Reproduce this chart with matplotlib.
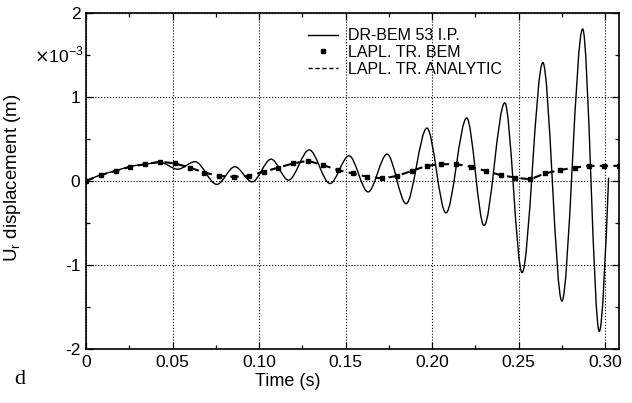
import numpy as np
import matplotlib
matplotlib.use('Agg')
import matplotlib.pyplot as plt
from matplotlib.path import Path
from matplotlib.patches import PathPatch
from matplotlib.lines import Line2D

plt.rcParams['font.family'] = ['Liberation Sans', 'DejaVu Sans']

# DR-BEM 53 I.P. response (x1e-3 m), read at turning points of the curve
t_drbem = [0, 0.008, 0.017, 0.025, 0.034, 0.043, 0.053, 0.063, 0.0756, 0.086,
           0.096, 0.107, 0.117, 0.129, 0.141, 0.152, 0.163, 0.174, 0.185, 0.197,
           0.208, 0.220, 0.230, 0.242, 0.252, 0.264, 0.275, 0.287, 0.2966, 0.302]
u_drbem = [0, 0.07, 0.12, 0.17, 0.20, 0.22, 0.14, 0.23, -0.04, 0.17,
           -0.01, 0.26, 0.01, 0.37, -0.03, 0.30, -0.13, 0.32, -0.27, 0.63,
           -0.38, 0.75, -0.53, 0.93, -1.09, 1.41, -1.43, 1.81, -1.79, 0.04]

# Laplace transform BEM / analytic (x1e-3 m)
t_lap = [0.0, 0.0086, 0.0171, 0.0257, 0.0342, 0.0428, 0.0513, 0.0599, 0.0684, 0.0770,
         0.0856, 0.0941, 0.1027, 0.1112, 0.1198, 0.1283, 0.1369, 0.1455, 0.1540, 0.1626,
         0.1711, 0.1797, 0.1882, 0.1968, 0.2053, 0.2139, 0.2225, 0.2310, 0.2396, 0.2481,
         0.2567, 0.2652, 0.2738, 0.2823, 0.2909, 0.2995, 0.3080]
u_lap = [0.00, 0.07, 0.12, 0.17, 0.20, 0.23, 0.21, 0.16, 0.10, 0.06,
         0.05, 0.06, 0.11, 0.16, 0.21, 0.24, 0.19, 0.13, 0.09, 0.05,
         0.03, 0.06, 0.12, 0.18, 0.20, 0.20, 0.17, 0.12, 0.07, 0.04,
         0.02, 0.09, 0.13, 0.16, 0.18, 0.18, 0.18]

x_ticks = [0, 0.05, 0.10, 0.15, 0.20, 0.25, 0.30]
x_labels = ['0', '0.05', '0.10', '0.15', '0.20', '0.25', '0.30']
y_ticks = [-2, -1, 0, 1, 2]
y_labels = ['-2', '-1', '0', '1', '2']


def smooth_path(t, y):
    # cubic Hermite segments as Bezier curves, flat at turning points
    n = len(t)
    m = []
    for i in range(n):
        if i == 0:
            m.append((y[1] - y[0]) / (t[1] - t[0]))
        elif i == n - 1:
            m.append(1.5 * (y[i] - y[i - 1]) / (t[i] - t[i - 1]))
        elif (y[i] - y[i - 1]) * (y[i + 1] - y[i]) <= 0:
            m.append(0.0)
        else:
            m.append((y[i + 1] - y[i - 1]) / (t[i + 1] - t[i - 1]))
    verts = [(t[0], y[0])]
    codes = [Path.MOVETO]
    for i in range(n - 1):
        h = t[i + 1] - t[i]
        verts += [(t[i] + h / 3, y[i] + m[i] * h / 3),
                  (t[i + 1] - h / 3, y[i + 1] - m[i + 1] * h / 3),
                  (t[i + 1], y[i + 1])]
        codes += [Path.CURVE4] * 3
    return Path(verts, codes)


fig = plt.figure(figsize=(6.32, 4.03), dpi=100)
ax = fig.add_axes([86 / 632, 1 - 349 / 403, 533 / 632, 336 / 403])

ax.add_patch(PathPatch(smooth_path(t_drbem, u_drbem), fill=False, ec='black', lw=1.0))
ax.plot(t_lap, u_lap, color='black', lw=1.5, dashes=(4, 2.5))
ax.plot(t_lap, u_lap, ls='none', marker='s', ms=3.2, color='black')

ax.set_xlim(0, 0.308)
ax.set_ylim(-2, 2)
ax.set_xticks(x_ticks)
ax.set_xticklabels(x_labels)
ax.set_yticks(y_ticks)
ax.set_yticklabels(y_labels)
ax.set_xticks([0.025, 0.075, 0.125, 0.175, 0.225, 0.275], minor=True)
ax.set_yticks([-1.5, -0.5, 0.5, 1.5], minor=True)
ax.tick_params(which='both', direction='in', top=True, right=True, labelsize=12.5, width=0.9)
ax.tick_params(which='major', length=5, pad=4)
ax.tick_params(which='minor', length=3)
ax.grid(True, which='major', ls=':', color='black', lw=0.8)
for s in ax.spines.values():
    s.set_linewidth(1.2)

ax.set_xlabel('Time (s)', fontsize=13)
ax.xaxis.set_label_coords((288 - 86) / 533, -0.072)
ax.set_ylabel(r'U$_\mathregular{r}$ displacement (m)', fontsize=13.5)
ax.yaxis.set_label_coords(-0.118, 0.51)

fig.text(83 / 632, 1 - 55 / 403, r'$\times$10$^{\mathregular{-3}}$', ha='right', va='center', fontsize=12.5)
fig.text(14 / 632, 1 - 380 / 403, 'd', family='Liberation Serif', fontsize=16, va='center')

handles = [Line2D([], [], color='black', lw=1.0),
           Line2D([], [], ls='none', marker='s', ms=3.2, color='black'),
           Line2D([], [], color='black', lw=1.0, dashes=(3, 2))]
ax.legend(handles, ['DR-BEM 53 I.P.', 'LAPL. TR. BEM', 'LAPL. TR. ANALYTIC'],
          loc='upper left', bbox_to_anchor=((308 - 86) / 533, 0.955), frameon=False,
          fontsize=11.5, handlelength=1.9, handletextpad=0.6, labelspacing=0.12,
          borderpad=0, borderaxespad=0)

fig.savefig('out.png', dpi=100)
